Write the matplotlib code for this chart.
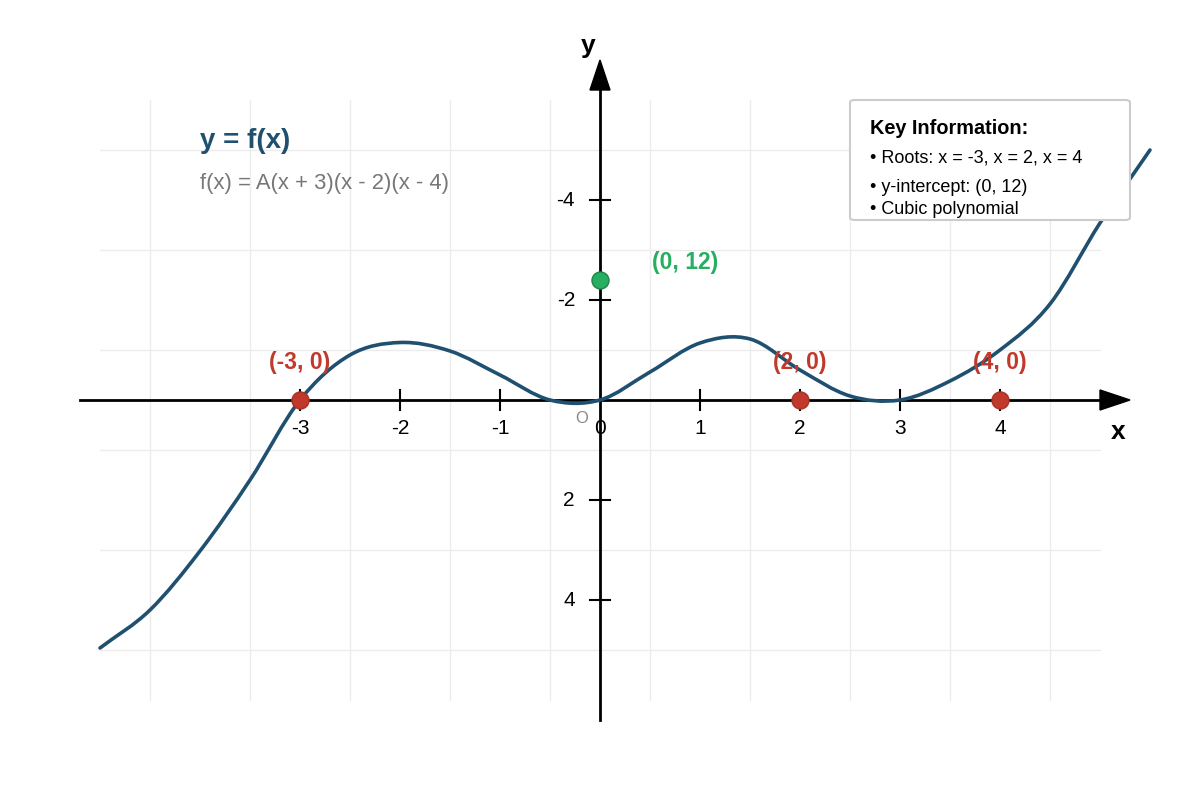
import numpy as np
import matplotlib
matplotlib.use("Agg")
import matplotlib.pyplot as plt
from matplotlib.path import Path
from matplotlib.patches import PathPatch, FancyBboxPatch, Polygon

plt.rcParams["font.family"] = ["Liberation Sans", "DejaVu Sans"]

# curve samples (y in the chart's own, downward-positive axis units)
curve_x = [-5.0, -4.5, -4.0, -3.5, -3.0, -2.5, -2.0, -1.5, -1.0, -0.5, 0.0,
           0.5, 1.0, 1.5, 2.0, 2.5, 3.0, 3.5, 4.0, 4.5, 5.0, 5.5]
curve_y = [4.96, 4.2, 3.02, 1.6, 0.0, -0.9, -1.15, -0.98, -0.5, 0.0, 0.0,
           -0.56, -1.14, -1.22, -0.6, -0.08, 0.0, -0.38, -1.0, -1.92, -3.54, -5.0]

roots = [-3, 2, 4]
root_labels = ["(-3, 0)", "(2, 0)", "(4, 0)"]
intercept_x, intercept_y = 0, -2.4
intercept_label = "(0, 12)"
x_ticks = [-3, -2, -1, 0, 1, 2, 3, 4]
y_ticks = [-4, -2, 2, 4]
info_lines = ["• Roots: x = -3, x = 2, x = 4", "• y-intercept: (0, 12)", "• Cubic polynomial"]

BLUE = "#1f5070"
RED = "#c0392b"
GREEN = "#27ae60"

fig = plt.figure(figsize=(12, 8), dpi=100)
ax = fig.add_axes([0, 0, 1, 1])
ax.set_xlim(-6, 6)
ax.set_ylim(8, -8)
ax.axis("off")

# grid
for gx in np.arange(-4.5, 5, 1.0):
    ax.plot([gx, gx], [-6, 6], color="#ececec", lw=1, zorder=0)
for gy in [-5, -3, -1, 1, 3, 5]:
    ax.plot([-5, 5], [gy, gy], color="#ececec", lw=1, zorder=0)

# axes with arrow heads
ax.plot([-5.2, 5.1], [0, 0], color="black", lw=2, zorder=2)
ax.add_patch(Polygon([[5.3, 0], [5.0, -0.2], [5.0, 0.2]], closed=True, color="black", zorder=2))
ax.plot([0, 0], [6.4, -6.2], color="black", lw=2, zorder=2)
ax.add_patch(Polygon([[0, -6.8], [-0.1, -6.2], [0.1, -6.2]], closed=True, color="black", zorder=2))

for t in x_ticks:
    if t != 0:
        ax.plot([t, t], [-0.2, 0.2], color="black", lw=1.5, zorder=2)
    ax.text(t, 0.56, str(t), ha="center", va="center", fontsize=15, zorder=3)
ax.text(-0.18, 0.37, "O", ha="center", va="center", fontsize=12, color="#888888")
for t in y_ticks:
    ax.plot([-0.1, 0.1], [t, t], color="black", lw=1.5, zorder=2)
    ax.text(-0.25, t, str(t), ha="right", va="center", fontsize=15, zorder=3)
ax.text(5.18, 0.64, "x", ha="center", va="center", fontsize=19, fontweight="bold")
ax.text(-0.12, -7.08, "y", ha="center", va="center", fontsize=19, fontweight="bold")

# smooth curve through the samples (Catmull-Rom -> cubic Bezier, reflected end points)
P = np.column_stack([curve_x, curve_y])
Pe = np.vstack([2 * P[0] - P[1], P, 2 * P[-1] - P[-2]])
verts = [tuple(P[0])]
codes = [Path.MOVETO]
for i in range(1, len(Pe) - 2):
    p0, p1, p2, p3 = Pe[i - 1], Pe[i], Pe[i + 1], Pe[i + 2]
    verts += [tuple(p1 + (p2 - p0) / 6), tuple(p2 - (p3 - p1) / 6), tuple(p2)]
    codes += [Path.CURVE4] * 3
ax.add_patch(PathPatch(Path(verts, codes), fill=False, edgecolor=BLUE, lw=2.6,
                       capstyle="round", zorder=4))

# key points
ax.scatter(roots, [0] * len(roots), s=150, color=RED, edgecolors="#a93226", lw=1, zorder=5)
for r, lab in zip(roots, root_labels):
    ax.text(r, -0.76, lab, ha="center", va="center", fontsize=16.5, fontweight="bold", color=RED, zorder=5)
ax.scatter([intercept_x], [intercept_y], s=150, color=GREEN, edgecolors="#1e8449", lw=1, zorder=5)
ax.text(0.85, -2.76, intercept_label, ha="center", va="center", fontsize=16.5, fontweight="bold",
        color=GREEN, zorder=5)

# title block
ax.text(-4.0, -5.18, "y = f(x)", ha="left", va="center", fontsize=20, fontweight="bold", color=BLUE)
ax.text(-4.0, -4.34, "f(x) = A(x + 3)(x - 2)(x - 4)", ha="left", va="center", fontsize=15.8,
        color="#777777")

# info box
ax.add_patch(FancyBboxPatch((2.5, -6.0), 2.8, 2.4, boxstyle="round,pad=0,rounding_size=0.05",
                            facecolor="white", edgecolor="#cccccc", lw=1.5, zorder=6))
ax.text(2.7, -5.44, "Key Information:", ha="left", va="center", fontsize=14.3, fontweight="bold", zorder=7)
for yy, line in zip([-4.84, -4.24, -3.82], info_lines):
    ax.text(2.7, yy, line, ha="left", va="center", fontsize=13, zorder=7)

fig.savefig("out.png", dpi=100, facecolor="white")
